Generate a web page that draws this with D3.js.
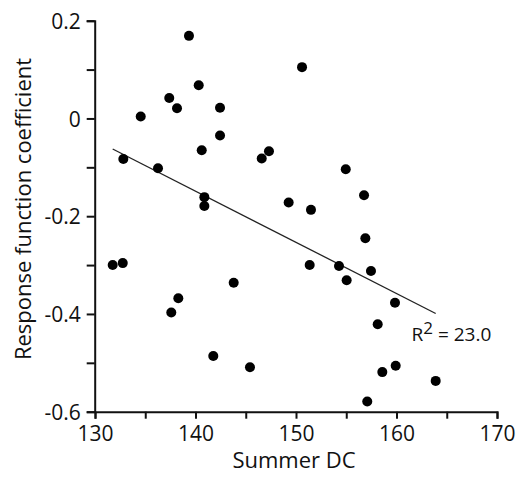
<!DOCTYPE html>
<html><head><meta charset="utf-8">
<script src="https://cdn.jsdelivr.net/npm/d3@7"></script>
<style>body{margin:0;background:#fff}svg{display:block}text{font-family:"Open Sans",sans-serif;fill:#111}</style>
</head><body><svg id="c" width="521" height="481"></svg>
<script>
const summerDC = [131.76,132.76,132.82,134.55,136.27,137.39,138.16,138.29,137.59,139.35,140.32,140.62,140.88,140.88,142.44,142.44,141.77,143.80,145.42,146.59,147.31,150.60,149.27,151.49,151.36,154.95,154.28,155.04,156.77,156.90,157.46,158.13,159.85,159.92,158.59,163.90,157.09];
const coefficient = [-0.300,-0.296,-0.083,0.004,-0.102,0.042,0.021,-0.368,-0.397,0.169,0.068,-0.065,-0.161,-0.179,0.022,-0.035,-0.486,-0.336,-0.509,-0.082,-0.067,0.105,-0.172,-0.187,-0.300,-0.104,-0.302,-0.331,-0.157,-0.245,-0.312,-0.421,-0.377,-0.506,-0.519,-0.537,-0.579];
const fitX = [131.76,163.90];
const fitY = [-0.0625,-0.399];
const xTicks = [130,140,150,160,170];
const xMinor = [135,145,155,165];
const yTicks = [0.2,0,-0.2,-0.4,-0.6];
const yMinor = [0.1,-0.1,-0.3,-0.5];
const xLabel = "Summer DC";
const yLabel = "Response function coefficient";
const r2Text = ["R","2"," = 23.0"];

const svg = d3.select("#c");
const x = d3.scaleLinear().domain([130,170]).range([95,497]);
const y = d3.scaleLinear().domain([-0.6,0.2]).range([411.7,20.7]);

const fmtY = d => d===0 ? "0" : d3.format(".1f")(d).replace("−","-");

const gx = svg.append("g").attr("transform","translate(0,411.7)")
  .call(d3.axisBottom(x).tickValues(xTicks).tickSize(7).tickPadding(7).tickFormat(d3.format("d")));
const gxm = svg.append("g").attr("transform","translate(0,411.7)")
  .call(d3.axisBottom(x).tickValues(xMinor).tickSize(7).tickFormat(""));
gxm.select(".domain").remove();
const gy = svg.append("g").attr("transform","translate(94.7,0)")
  .call(d3.axisLeft(y).tickValues(yTicks).tickSize(8).tickPadding(6).tickFormat(fmtY));
const gym = svg.append("g").attr("transform","translate(94.7,0)")
  .call(d3.axisLeft(y).tickValues(yMinor).tickSize(8).tickFormat(""));
gym.select(".domain").remove();
svg.selectAll(".domain").attr("stroke","#111").attr("stroke-width",2);
svg.selectAll(".tick line").attr("stroke","#111").attr("stroke-width",2);
svg.selectAll(".tick text").attr("font-size",21).attr("font-family","Open Sans").attr("fill","#111");
gy.selectAll(".tick text").attr("dy","0.36em");

svg.append("line")
  .attr("x1",x(fitX[0])).attr("y1",y(fitY[0]))
  .attr("x2",x(fitX[1])).attr("y2",y(fitY[1]))
  .attr("stroke","#222").attr("stroke-width",1.3);

svg.append("g").selectAll("circle").data(summerDC).join("circle")
  .attr("cx",d=>x(d)).attr("cy",(d,i)=>y(coefficient[i])).attr("r",5).attr("fill","#000");

const t = svg.append("text").attr("x",411.5).attr("y",341).attr("font-size",19);
t.append("tspan").text(r2Text[0]);
t.append("tspan").attr("dy",-7).attr("font-size",17).text(r2Text[1]);
t.append("tspan").attr("dy",7).text(r2Text[2]);

svg.append("text").attr("x",294).attr("y",468).attr("text-anchor","middle").attr("font-size",22).text(xLabel);
svg.append("text").attr("transform","translate(31,209) rotate(-90)").attr("text-anchor","middle").attr("font-size",22).text(yLabel);
</script></body></html>
